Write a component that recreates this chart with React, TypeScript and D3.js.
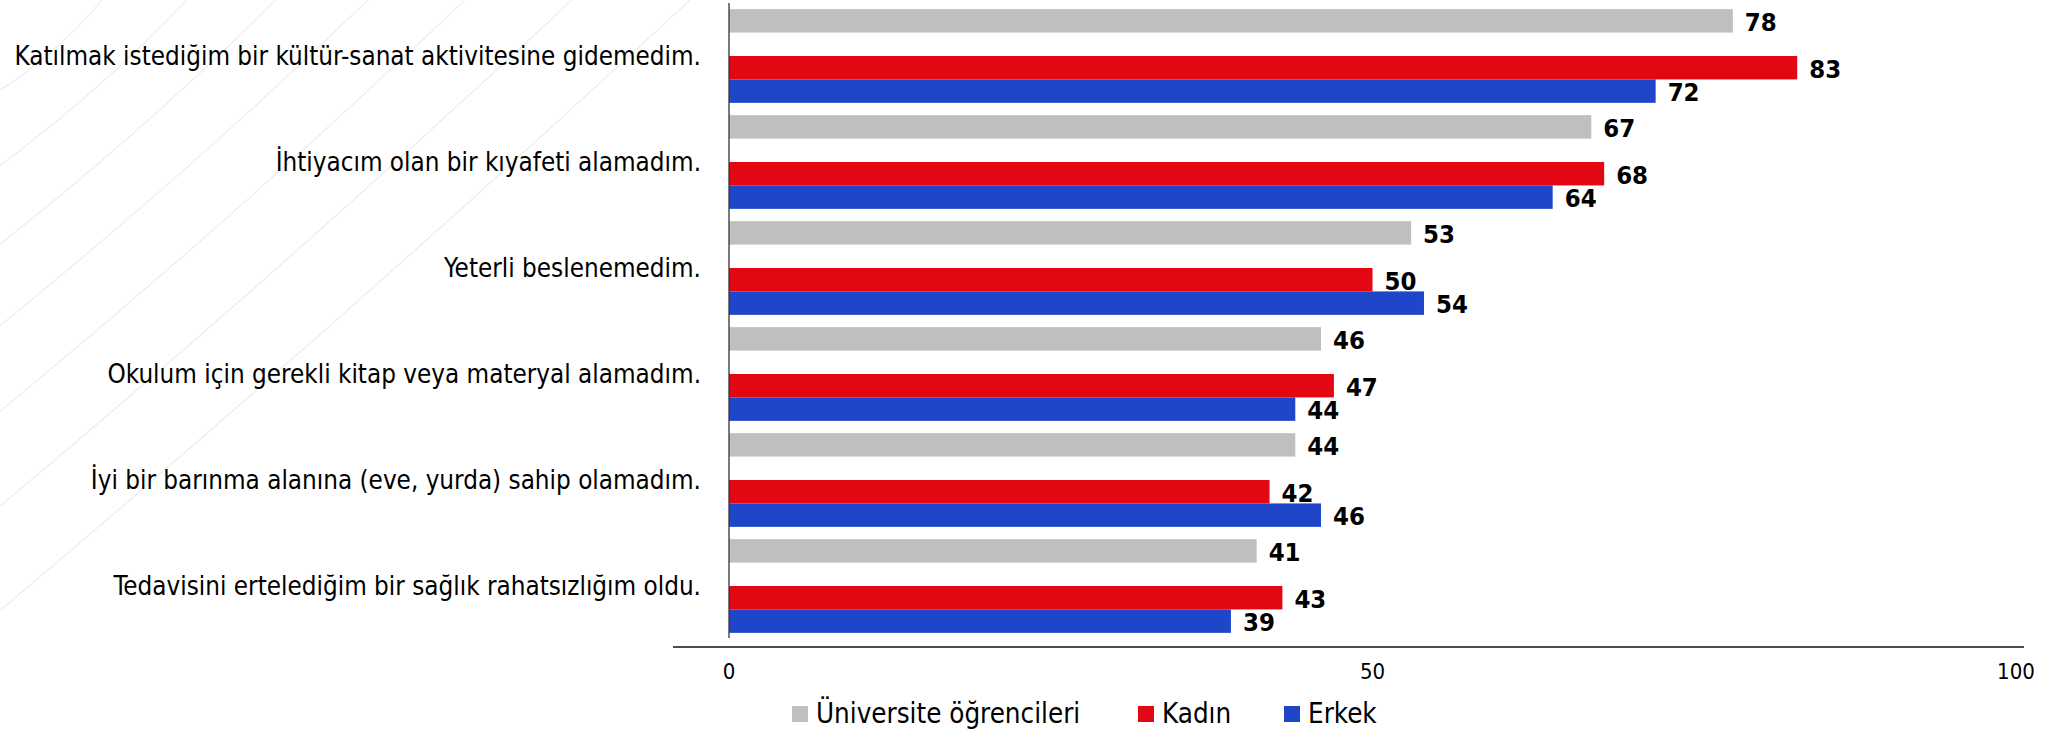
import React from "react";
import * as d3 from "d3";

const categories = [
  "Katılmak istediğim bir kültür-sanat aktivitesine gidemedim.",
  "İhtiyacım olan bir kıyafeti alamadım.",
  "Yeterli beslenemedim.",
  "Okulum için gerekli kitap veya materyal alamadım.",
  "İyi bir barınma alanına (eve, yurda) sahip olamadım.",
  "Tedavisini ertelediğim bir sağlık rahatsızlığım oldu.",
];
const universite = [78, 67, 53, 46, 44, 41];
const kadin = [83, 68, 50, 47, 42, 43];
const erkek = [72, 64, 54, 44, 46, 39];
const tickValues = [0, 50, 100];
const seriesNames = ["Üniversite öğrencileri", "Kadın", "Erkek"];
const seriesColors = ["#bfbfbf", "#e30613", "#1f45c8"];

// faint decorative arcs in the background (x where they meet the top edge)
const arcStarts = [102, 187, 276, 368, 465, 572, 690];

const W = 2056;
const H = 731;
const FONT = "'DejaVu Sans Condensed', 'DejaVu Sans', sans-serif";

function App() {
  const x = d3.scaleLinear().domain([0, 100]).range([729, 2016]);
  const y = d3
    .scaleBand()
    .domain(categories)
    .range([3, 639])
    .paddingInner(0.116)
    .paddingOuter(0.058);
  // four slots per group, the second one stays empty
  const slot = d3
    .scaleBand()
    .domain(["uni", "gap", "kadin", "erkek"])
    .range([0, y.bandwidth()]);
  const keys = ["uni", "kadin", "erkek"];
  const series = [universite, kadin, erkek];

  const arcPath = (x0) => {
    const y1 = x0 / 1.13;
    const p = d3.path();
    p.moveTo(x0, 0);
    p.quadraticCurveTo(x0 / 2 + 7, y1 / 2 + 8, 0, y1);
    return p.toString();
  };

  const legendX = [792, 1138, 1284];

  return (
    <svg
      width={W}
      height={H}
      style={{ position: "absolute", left: 0, top: 0, background: "#fff" }}
      fontFamily={FONT}
    >
      <defs>
        <clipPath id="leftArea">
          <rect x={0} y={0} width={720} height={H} />
        </clipPath>
      </defs>
      <g clipPath="url(#leftArea)">
        {arcStarts.map((a) => (
          <path key={a} d={arcPath(a)} fill="none" stroke="#f0f0f0" strokeWidth={1.6} />
        ))}
      </g>

      {categories.map((c, i) => {
        const gy = y(c);
        return (
          <g key={c}>
            <text
              x={701}
              y={gy + y.bandwidth() / 2}
              textAnchor="end"
              dominantBaseline="central"
              fontSize={25.8}
              style={{ fontStretch: "condensed" }}
              fill="#000"
            >
              {c}
            </text>
            {keys.map((k, s) => {
              const v = series[s][i];
              const by = gy + slot(k);
              return (
                <g key={k}>
                  <rect
                    x={x(0)}
                    y={by}
                    width={x(v) - x(0)}
                    height={slot.bandwidth()}
                    fill={seriesColors[s]}
                  />
                  <text
                    x={x(v) + 12}
                    y={by + slot.bandwidth() / 2 + 1}
                    dominantBaseline="central"
                    fontSize={25.5}
                    fontWeight="bold"
                    style={{ fontStretch: "condensed" }}
                    fill="#000"
                  >
                    {v}
                  </text>
                </g>
              );
            })}
          </g>
        );
      })}

      {/* axes */}
      <line x1={x(0)} x2={x(0)} y1={3} y2={638} stroke="#333" strokeWidth={1.3} />
      <line x1={673} x2={2024} y1={647} y2={647} stroke="#4d4d4d" strokeWidth={2} />
      {tickValues.map((t) => (
        <text
          key={t}
          x={x(t)}
          y={679}
          textAnchor="middle"
          fontSize={22}
          style={{ fontStretch: "condensed" }}
          fill="#000"
        >
          {t}
        </text>
      ))}

      {/* legend */}
      {seriesNames.map((n, i) => (
        <g key={n} transform={`translate(${legendX[i]},0)`}>
          <rect x={0} y={706} width={16} height={16} fill={seriesColors[i]} />
          <text
            x={24}
            y={722.5}
            fontSize={27.5}
            style={{ fontStretch: "condensed" }}
            fill="#000"
          >
            {n}
          </text>
        </g>
      ))}
    </svg>
  );
}

export default App;
